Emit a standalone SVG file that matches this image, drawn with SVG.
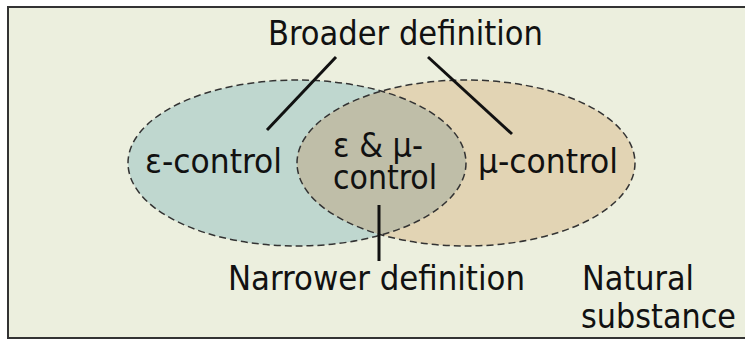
<svg xmlns="http://www.w3.org/2000/svg" width="745" height="340" viewBox="0 0 745 340">
<style>
.t{font-family:"DejaVu Sans Condensed","DejaVu Sans","Liberation Sans",sans-serif;font-size:33px;fill:#111}
.ell{stroke:#333;stroke-width:1.5;stroke-dasharray:7 4}
.ln{stroke:#111;stroke-width:3;fill:none}
</style>
<defs>
<clipPath id="clipBlue"><ellipse cx="297" cy="163" rx="169" ry="83"/></clipPath>
</defs>
<rect x="8" y="7" width="750" height="331" fill="#ecefde" stroke="#333" stroke-width="2"/>
<g id="eps">
<ellipse cx="297" cy="163" rx="169" ry="83" fill="#bfd7cf"/>
</g>
<g id="mu">
<ellipse cx="466" cy="163" rx="169" ry="83" fill="#e2d4b4"/>
</g>
<g id="both">
<ellipse cx="466" cy="163" rx="169" ry="83" fill="#bfbea8" clip-path="url(#clipBlue)"/>
</g>
<ellipse class="ell" cx="297" cy="163" rx="169" ry="83" fill="none"/>
<ellipse class="ell" cx="466" cy="163" rx="169" ry="83" fill="none"/>
<g id="connectors">
<line class="ln" x1="336" y1="57" x2="267" y2="130"/>
<line class="ln" x1="428" y1="57" x2="512" y2="134"/>
<line class="ln" x1="379" y1="205" x2="379" y2="261"/>
</g>
<g id="labels">
<text class="t" x="268" y="45" textLength="275" lengthAdjust="spacingAndGlyphs">Broader definition</text>
<text class="t" x="145" y="173" textLength="137" lengthAdjust="spacingAndGlyphs">ε-control</text>
<text class="t" x="478" y="173" textLength="140" lengthAdjust="spacingAndGlyphs">μ-control</text>
<text class="t" x="333" y="157" textLength="90" lengthAdjust="spacingAndGlyphs">ε &amp; μ-</text>
<text class="t" x="333" y="189" textLength="104" lengthAdjust="spacingAndGlyphs">control</text>
<text class="t" x="228" y="290" textLength="297" lengthAdjust="spacingAndGlyphs">Narrower definition</text>
<text class="t" x="582" y="290" textLength="112" lengthAdjust="spacingAndGlyphs">Natural</text>
<text class="t" x="581" y="328" textLength="155" lengthAdjust="spacingAndGlyphs">substance</text>
</g>
</svg>
